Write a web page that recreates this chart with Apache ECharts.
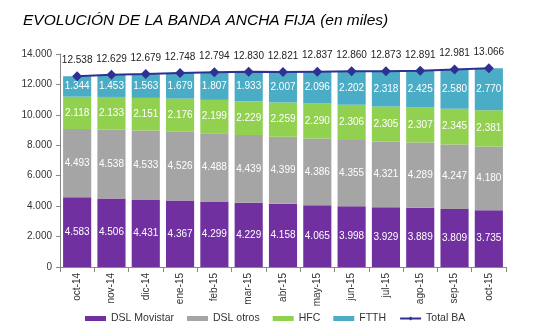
<!DOCTYPE html>
<html><head><meta charset="utf-8">
<script src="https://cdn.jsdelivr.net/npm/echarts@6/dist/echarts.min.js"></script>
<style>html,body{margin:0;padding:0;background:#fff}#c{width:558px;height:333px}</style>
</head><body><div id="c"></div>
<script>
const categories = ['oct-14','nov-14','dic-14','ene-15','feb-15','mar-15','abr-15','may-15','jun-15','jul-15','ago-15','sep-15','oct-15'];
const dslMovistar = [4583,4506,4431,4367,4299,4229,4158,4065,3998,3929,3889,3809,3735];
const dslOtros = [4493,4538,4533,4526,4488,4439,4399,4386,4355,4321,4289,4247,4180];
const hfc = [2118,2133,2151,2176,2199,2229,2259,2290,2306,2305,2307,2345,2381];
const ftth = [1344,1453,1563,1679,1807,1933,2007,2096,2202,2318,2425,2580,2770];
const totalBA = [12538,12629,12679,12748,12794,12830,12821,12837,12860,12873,12891,12981,13066];

const fmt = v => String(v).replace(/\B(?=(\d{3})+(?!\d))/g, '.');
const F = 'Liberation Sans, Arial, sans-serif';
function bar(name, data, color) {
  return {
    name, type: 'bar', stack: 'a', data, barCategoryGap: '18%',
    itemStyle: { color },
    label: { show: true, position: 'inside', color: '#fff', fontFamily: F, fontSize: 10,
      formatter: p => fmt(p.value) }
  };
}
const chart = echarts.init(document.getElementById('c'));
chart.setOption({
  animation: false,
  title: { text: 'EVOLUCIÓN DE LA BANDA ANCHA FIJA (en miles)', left: 18, top: 8,
    textStyle: { fontFamily: F, fontStyle: 'italic', fontWeight: 'normal', fontSize: 15.5, color: '#000' } },
  grid: { left: 60, right: 52, top: 54, bottom: 66 },
  legend: {
    top: 308, left: 80, itemWidth: 21, itemHeight: 5, itemGap: 13,
    textStyle: { fontFamily: F, fontSize: 10.5, color: '#333' },
    data: [
      { name: 'DSL Movistar', icon: 'rect' },
      { name: 'DSL otros', icon: 'rect' },
      { name: 'HFC', icon: 'rect' },
      { name: 'FTTH', icon: 'rect' },
      { name: 'Total BA' }
    ]
  },
  xAxis: {
    type: 'category', data: categories,
    axisLine: { lineStyle: { color: '#888' } },
    axisTick: { show: true, lineStyle: { color: '#888' } },
    axisLabel: { rotate: 90, color: '#333', fontFamily: F, fontSize: 10, margin: 6 }
  },
  yAxis: {
    type: 'value', min: 0, max: 14000, interval: 2000,
    splitLine: { show: false },
    axisLine: { show: true, lineStyle: { color: '#888' } },
    axisTick: { show: true, length: 4, lineStyle: { color: '#888' } },
    axisLabel: { color: '#333', fontFamily: F, fontSize: 10, margin: 8, formatter: v => fmt(v) }
  },
  series: [
    bar('DSL Movistar', dslMovistar, '#7030a0'),
    bar('DSL otros', dslOtros, '#a5a5a5'),
    bar('HFC', hfc, '#92d050'),
    bar('FTTH', ftth, '#4bacc6'),
    {
      name: 'Total BA', type: 'line', data: totalBA, symbol: 'diamond', symbolSize: 10,
      lineStyle: { color: '#2e3192', width: 2 }, itemStyle: { color: '#2e3192' },
      label: { show: true, position: 'top', distance: 6, color: '#222', fontFamily: F, fontSize: 10,
        formatter: p => fmt(p.value) }
    }
  ]
});
</script></body></html>
